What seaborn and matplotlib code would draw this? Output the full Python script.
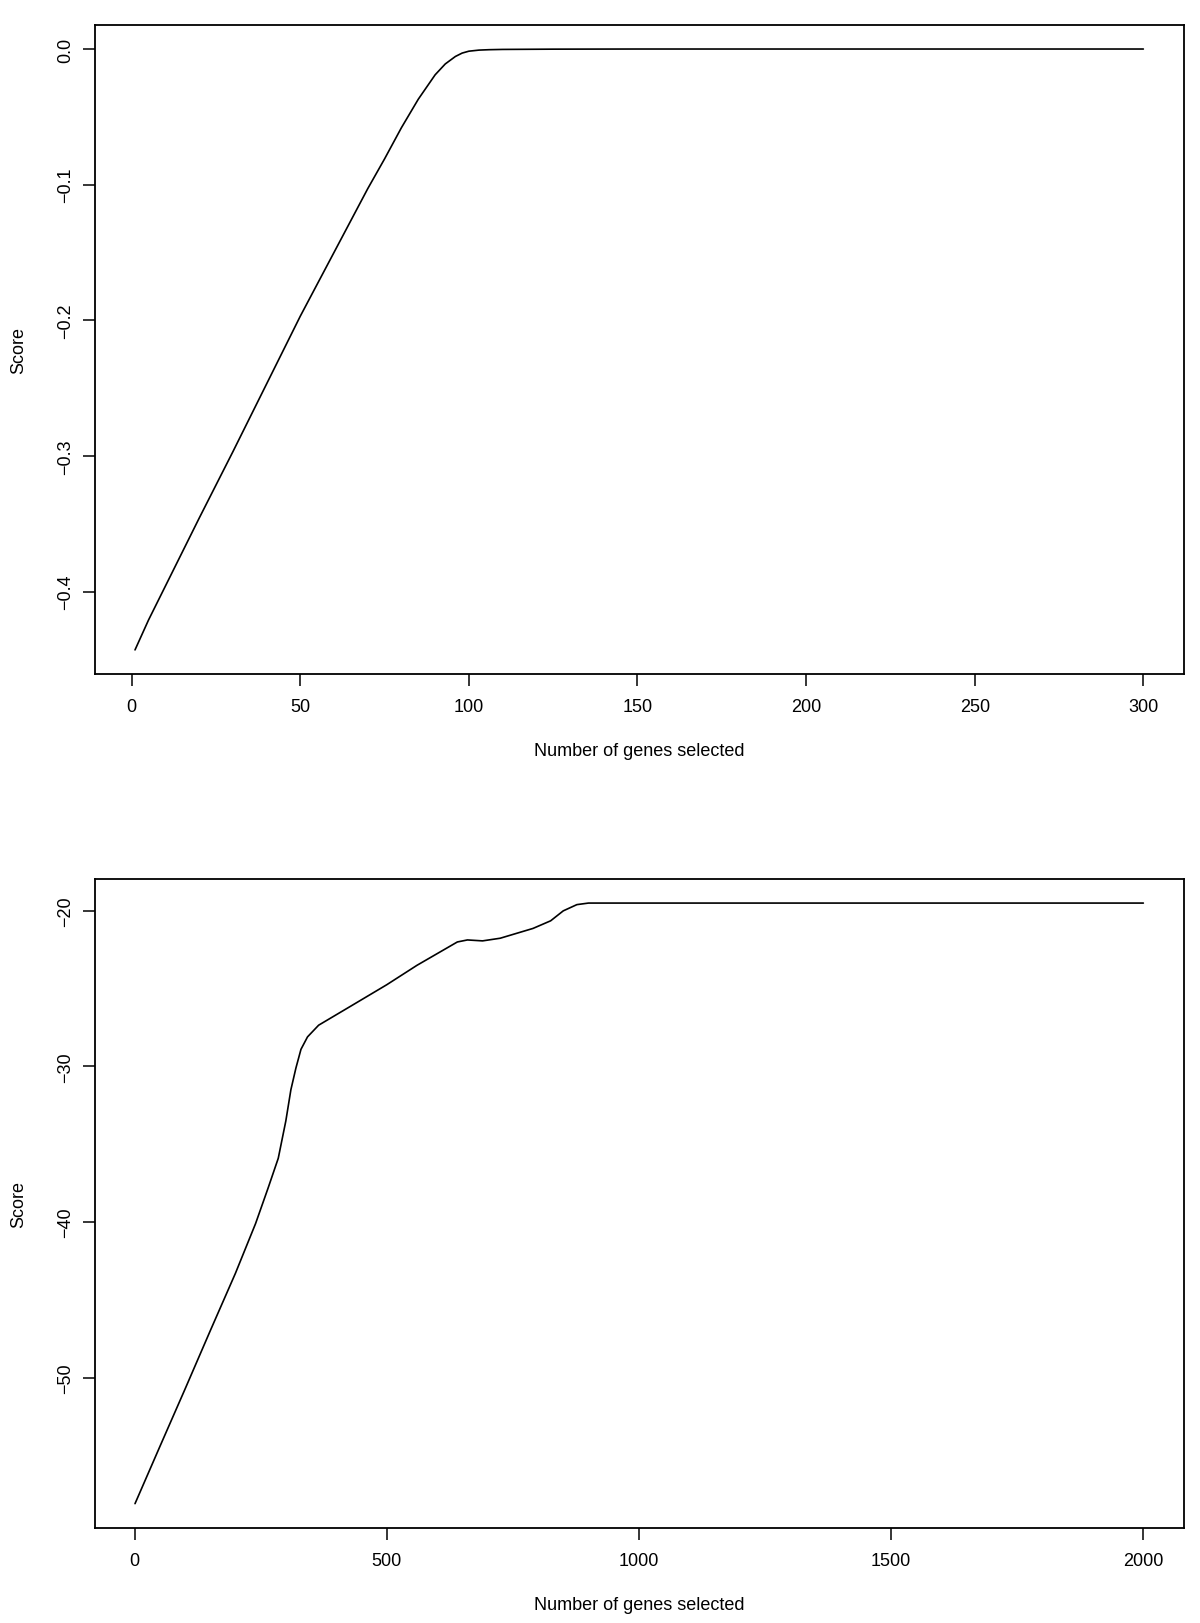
import matplotlib
matplotlib.use("Agg")
import matplotlib.pyplot as plt
import seaborn as sns
import pandas as pd

# top panel: score vs number of genes (1..300)
top_genes = [1, 5, 10, 20, 30, 40, 50, 60, 70, 75, 80, 85, 90, 93, 96, 98,
             100, 103, 106, 110, 125, 150, 200, 250, 300]
top_score = [-0.443, -0.421, -0.396, -0.346, -0.297, -0.247, -0.197, -0.150,
             -0.103, -0.081, -0.058, -0.037, -0.019, -0.011, -0.0055, -0.003,
             -0.0016, -0.0008, -0.0005, -0.0003, -0.0001, 0.0, 0.0, 0.0, 0.0]

# bottom panel: score vs number of genes (1..2000)
bottom_genes = [1, 50, 100, 150, 200, 240, 265, 285, 300, 310, 320, 330, 343,
                365, 430, 500, 560, 640, 660, 690, 725, 790, 825, 850, 877,
                900, 1000, 1500, 2000]
bottom_score = [-58.1, -54.45, -50.75, -47.0, -43.3, -40.1, -37.8, -35.9,
                -33.5, -31.5, -30.1, -28.9, -28.1, -27.35, -26.1, -24.75,
                -23.5, -22.0, -21.87, -21.93, -21.76, -21.13, -20.64, -20.0,
                -19.6, -19.5, -19.5, -19.5, -19.5]

top_xticks = [0, 50, 100, 150, 200, 250, 300]
top_yticks = [-0.4, -0.3, -0.2, -0.1, 0.0]
bottom_xticks = [0, 500, 1000, 1500, 2000]
bottom_yticks = [-50, -40, -30, -20]

sns.set_theme(style="white")
plt.rcParams["font.family"] = ["Liberation Sans", "DejaVu Sans"]


def draw(ax, genes, score, xticks, yticks):
    df = pd.DataFrame({"genes": genes, "score": score})
    sns.lineplot(data=df, x="genes", y="score", color="black",
                 linewidth=1.2, ax=ax)
    ax.margins(x=0.04, y=0.04)
    ax.set_xticks(xticks)
    ax.set_yticks(yticks)
    for sp in ax.spines.values():
        sp.set_visible(True)
        sp.set_color("black")
        sp.set_linewidth(1.3)
    ax.tick_params(axis="both", bottom=True, left=True, direction="out",
                   length=8.4, width=1.1, color="black",
                   labelsize=13, labelcolor="black")
    ax.tick_params(axis="x", pad=9)
    ax.tick_params(axis="y", pad=6.5, labelrotation=90)
    for lab in ax.get_yticklabels():
        lab.set_va("center")
    ax.set_xlabel("Number of genes selected", fontsize=13, color="black")
    ax.set_ylabel("Score", fontsize=13, color="black")
    ax.xaxis.set_label_coords(0.5, -0.118)
    ax.xaxis.label.set_va("center")
    ax.yaxis.set_label_coords(-0.0697, 0.5)
    ax.yaxis.label.set_va("center")


fig = plt.figure(figsize=(12, 16.24), dpi=100)
ax1 = fig.add_axes([0.0789, 0.5844, 0.9075, 0.3996])
ax2 = fig.add_axes([0.0789, 0.0587, 0.9075, 0.3994])

draw(ax1, top_genes, top_score, top_xticks, top_yticks)
draw(ax2, bottom_genes, bottom_score, bottom_xticks, bottom_yticks)

fig.savefig("out.png", dpi=100)
